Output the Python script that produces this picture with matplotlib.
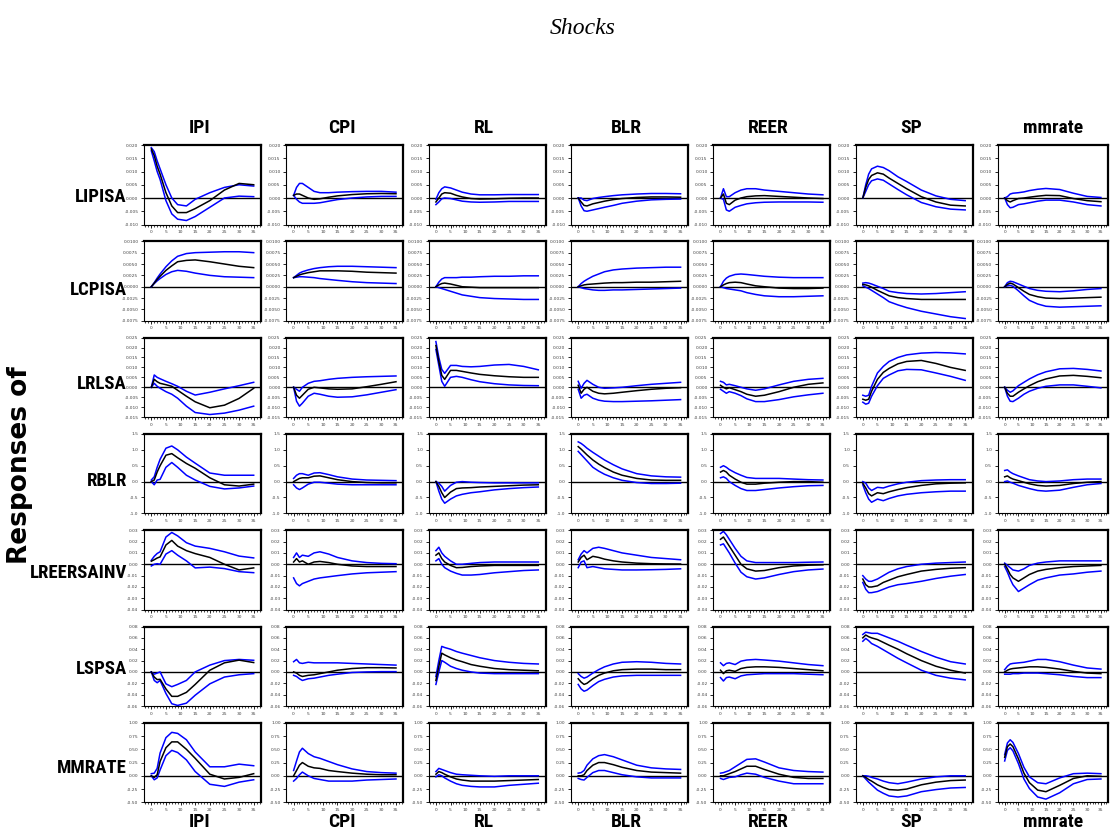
import matplotlib
matplotlib.use("Agg")
import matplotlib.pyplot as plt
from matplotlib import font_manager
from matplotlib.ticker import MultipleLocator

# ---------------- data ----------------
PERIODS = [0, 1, 2, 3, 5, 7, 9, 12, 15, 20, 25, 30, 35]
SHOCKS = ["IPI", "CPI", "RL", "BLR", "REER", "SP", "mmrate"]
RESPONSES = ["LIPISA", "LCPISA", "LRLSA", "RBLR", "LREERSAINV", "LSPSA", "MMRATE"]
X_TICKS = [0, 5, 10, 15, 20, 25, 30, 35]
X_TICK_LABELS = ["0", "5", "10", "15", "20", "25", "30", "35"]

Y_LIMITS = [(-0.010, 0.020), (-0.0075, 0.0100), (-0.015, 0.025), (-1.0, 1.5),
            (-0.04, 0.03), (-0.06, 0.08), (-0.50, 1.00)]
Y_TICKS = [
    [-0.010, -0.005, 0.000, 0.005, 0.010, 0.015, 0.020],
    [-0.0075, -0.0050, -0.0025, 0.0000, 0.0025, 0.0050, 0.0075, 0.0100],
    [-0.015, -0.010, -0.005, 0.000, 0.005, 0.010, 0.015, 0.020, 0.025],
    [-1.0, -0.5, 0.0, 0.5, 1.0, 1.5],
    [-0.04, -0.03, -0.02, -0.01, 0.00, 0.01, 0.02, 0.03],
    [-0.06, -0.04, -0.02, 0.00, 0.02, 0.04, 0.06, 0.08],
    [-0.50, -0.25, 0.00, 0.25, 0.50, 0.75, 1.00],
]
Y_TICK_LABELS = [
    ["-0.010", "-0.005", "0.000", "0.005", "0.010", "0.015", "0.020"],
    ["-0.0075", "-0.0050", "-0.0025", "0.0000", "0.0025", "0.0050", "0.0075", "0.0100"],
    ["-0.015", "-0.010", "-0.005", "0.000", "0.005", "0.010", "0.015", "0.020", "0.025"],
    ["-1.0", "-0.5", "0.0", "0.5", "1.0", "1.5"],
    ["-0.04", "-0.03", "-0.02", "-0.01", "0.00", "0.01", "0.02", "0.03"],
    ["-0.06", "-0.04", "-0.02", "0.00", "0.02", "0.04", "0.06", "0.08"],
    ["-0.50", "-0.25", "0.00", "0.25", "0.50", "0.75", "1.00"],
]

# Row 1: responses of LIPISA (columns: IPI, CPI, RL, BLR, REER, SP, mmrate)
LIPISA_MID = [
    [0.0185, 0.016, 0.012, 0.009, 0.002, -0.003, -0.0055, -0.0055, -0.004, -0.001, 0.003, 0.0055, 0.005],
    [0.001, 0.0015, 0.0015, 0.001, 0.0, -0.0005, -0.0003, 0.0003, 0.0008, 0.0013, 0.0016, 0.0017, 0.0016],
    [-0.0015, 0.0, 0.0015, 0.002, 0.0018, 0.001, 0.0004, -0.0002, -0.0004, -0.0003, -0.0001, 0.0, 0.0],
    [0.0, -0.0015, -0.0028, -0.003, -0.0022, -0.0017, -0.0012, -0.0006, -0.0002, 0.0002, 0.0004, 0.0004, 0.0003],
    [0.0, 0.0015, -0.002, -0.0025, -0.0008, 0.0, 0.0005, 0.0008, 0.0009, 0.0006, 0.0003, 0.0, -0.0002],
    [0.0, 0.004, 0.007, 0.0085, 0.0095, 0.009, 0.0075, 0.0055, 0.0035, 0.0005, -0.0015, -0.0027, -0.003],
    [0.0, -0.001, -0.0015, -0.001, -0.0002, 0.0, 0.0003, 0.0007, 0.001, 0.0009, -0.0002, -0.001, -0.0014],
]
LIPISA_HI = [
    [0.019, 0.0175, 0.014, 0.011, 0.005, 0.0, -0.0025, -0.003, -0.0005, 0.002, 0.004, 0.005, 0.0045],
    [0.001, 0.004, 0.0055, 0.0055, 0.004, 0.0025, 0.002, 0.002, 0.0022, 0.0024, 0.0025, 0.0025, 0.0022],
    [-0.0005, 0.002, 0.0035, 0.0042, 0.0038, 0.003, 0.0022, 0.0015, 0.0012, 0.0012, 0.0013, 0.0013, 0.0013],
    [0.0, 0.0, -0.0008, -0.001, -0.0002, 0.0002, 0.0005, 0.0009, 0.0012, 0.0015, 0.0017, 0.0017, 0.0016],
    [0.0, 0.0035, 0.0005, 0.0005, 0.002, 0.003, 0.0035, 0.0035, 0.003, 0.0025, 0.002, 0.0015, 0.0012],
    [0.0, 0.005, 0.009, 0.011, 0.012, 0.0115, 0.0103, 0.008, 0.0062, 0.003, 0.0008, -0.0005, -0.001],
    [0.0, 0.0005, 0.0015, 0.0018, 0.002, 0.0023, 0.0028, 0.0033, 0.0036, 0.0032, 0.0018, 0.0006, 0.0002],
]
LIPISA_LO = [
    [0.0178, 0.014, 0.010, 0.007, -0.001, -0.006, -0.008, -0.0085, -0.007, -0.0035, 0.0, 0.0007, 0.0005],
    [0.001, -0.0005, -0.0015, -0.002, -0.002, -0.002, -0.0018, -0.0012, -0.0006, 0.0, 0.0004, 0.0006, 0.0006],
    [-0.0025, -0.0015, -0.0003, 0.0, -0.0002, -0.0007, -0.0012, -0.0015, -0.0016, -0.0015, -0.0013, -0.0013, -0.0013],
    [0.0, -0.003, -0.0048, -0.005, -0.0045, -0.004, -0.0035, -0.0028, -0.002, -0.0012, -0.0007, -0.0005, -0.0004],
    [0.0, -0.0005, -0.0045, -0.005, -0.0035, -0.0028, -0.0022, -0.0018, -0.0016, -0.0015, -0.0015, -0.0015, -0.0016],
    [0.0, 0.0025, 0.005, 0.0065, 0.0072, 0.0067, 0.0053, 0.0032, 0.0012, -0.0017, -0.0033, -0.0042, -0.0045],
    [0.0, -0.0025, -0.0037, -0.0035, -0.0025, -0.0022, -0.0018, -0.0012, -0.0008, -0.0008, -0.0015, -0.0025, -0.003],
]

# Row 2: responses of LCPISA
LCPISA_MID = [
    [0.0, 0.0008, 0.0016, 0.0023, 0.0036, 0.0046, 0.0055, 0.0058, 0.0059, 0.0055, 0.005, 0.0045, 0.0042],
    [0.002, 0.0023, 0.0026, 0.0028, 0.0031, 0.0033, 0.0035, 0.0035, 0.0035, 0.0034, 0.0032, 0.0031, 0.003],
    [0.0, 0.0004, 0.0007, 0.0008, 0.0006, 0.0003, 0.0, -0.0001, -0.0002, -0.0002, -0.0002, -0.0002, -0.0002],
    [0.0, 0.0002, 0.0004, 0.0005, 0.0006, 0.0007, 0.0008, 0.0009, 0.0009, 0.001, 0.001, 0.0011, 0.0012],
    [0.0, 0.0004, 0.0007, 0.0009, 0.001, 0.0009, 0.0006, 0.0002, 0.0, -0.0003, -0.0004, -0.0004, -0.0003],
    [0.0005, 0.0004, 0.0002, -0.0001, -0.0008, -0.0014, -0.002, -0.0024, -0.0026, -0.0028, -0.0028, -0.0028, -0.0028],
    [0.0, 0.0005, 0.0008, 0.0006, -0.0002, -0.001, -0.0017, -0.0022, -0.0025, -0.0026, -0.0025, -0.0024, -0.0023],
]
LCPISA_HI = [
    [0.0, 0.0009, 0.0019, 0.0028, 0.0044, 0.0057, 0.0067, 0.0073, 0.0075, 0.0076, 0.0077, 0.0077, 0.0075],
    [0.002, 0.0025, 0.003, 0.0033, 0.0037, 0.004, 0.0042, 0.0044, 0.0045, 0.0045, 0.0044, 0.0043, 0.0042],
    [0.0, 0.001, 0.0017, 0.002, 0.002, 0.002, 0.0021, 0.0021, 0.0022, 0.0023, 0.0023, 0.0024, 0.0024],
    [0.0, 0.0007, 0.0012, 0.0016, 0.0023, 0.0028, 0.0033, 0.0037, 0.0039, 0.0041, 0.0042, 0.0043, 0.0043],
    [0.0, 0.0012, 0.0019, 0.0023, 0.0027, 0.0028, 0.0027, 0.0025, 0.0023, 0.0021, 0.002, 0.002, 0.002],
    [0.0008, 0.0009, 0.0008, 0.0006, 0.0001, -0.0004, -0.001, -0.0013, -0.0015, -0.0016, -0.0015, -0.0013, -0.0011],
    [0.0, 0.0009, 0.0012, 0.0011, 0.0006, 0.0001, -0.0004, -0.0008, -0.001, -0.0011, -0.0009, -0.0006, -0.0004],
]
LCPISA_LO = [
    [0.0, 0.0007, 0.0013, 0.0018, 0.0027, 0.0033, 0.0036, 0.0034, 0.003, 0.0025, 0.0022, 0.0021, 0.002],
    [0.002, 0.0021, 0.0022, 0.0022, 0.0021, 0.002, 0.0018, 0.0016, 0.0014, 0.0011, 0.0009, 0.0008, 0.0007],
    [0.0, -0.0002, -0.0004, -0.0006, -0.001, -0.0014, -0.0018, -0.0021, -0.0024, -0.0026, -0.0027, -0.0028, -0.0028],
    [0.0, -0.0002, -0.0004, -0.0005, -0.0007, -0.0008, -0.0008, -0.0007, -0.0007, -0.0006, -0.0005, -0.0004, -0.0003],
    [0.0, -0.0002, -0.0004, -0.0005, -0.0007, -0.0009, -0.0013, -0.0017, -0.002, -0.0022, -0.0022, -0.0021, -0.002],
    [0.0002, -0.0001, -0.0004, -0.0008, -0.0016, -0.0024, -0.0033, -0.004, -0.0046, -0.0054, -0.006, -0.0066, -0.007],
    [0.0, 0.0002, 0.0003, 0.0001, -0.0009, -0.002, -0.003, -0.0038, -0.0043, -0.0045, -0.0044, -0.0043, -0.0042],
]

# Row 3: responses of LRLSA
LRLSA_MID = [
    [0.0, 0.004, 0.0028, 0.002, 0.0013, 0.0005, -0.0015, -0.0045, -0.0073, -0.0103, -0.009, -0.0056, -0.0005],
    [0.0, -0.004, -0.0055, -0.004, -0.001, 0.0, -0.0003, -0.0008, -0.001, -0.0008, 0.0003, 0.0015, 0.0028],
    [0.021, 0.013, 0.006, 0.004, 0.0085, 0.0085, 0.008, 0.0072, 0.0065, 0.0058, 0.0053, 0.005, 0.005],
    [0.001, -0.003, -0.001, 0.0, -0.002, -0.003, -0.0033, -0.003, -0.0025, -0.0017, -0.001, -0.0005, -0.0002],
    [0.001, 0.0, -0.0008, -0.0002, -0.0012, -0.0022, -0.0035, -0.0045, -0.004, -0.0022, 0.0, 0.0015, 0.0022],
    [-0.006, -0.0065, -0.006, -0.002, 0.004, 0.0075, 0.0095, 0.0118, 0.013, 0.0135, 0.012, 0.01, 0.0085],
    [0.0, -0.003, -0.0045, -0.0045, -0.0025, -0.0008, 0.0008, 0.0028, 0.0042, 0.0057, 0.006, 0.0055, 0.0048],
]
LRLSA_HI = [
    [0.0, 0.0062, 0.005, 0.0043, 0.003, 0.0018, 0.0005, -0.002, -0.0039, -0.0025, -0.0008, 0.0008, 0.0025],
    [0.0, -0.001, -0.002, 0.0, 0.002, 0.003, 0.0033, 0.004, 0.0045, 0.005, 0.0053, 0.0055, 0.0057],
    [0.023, 0.015, 0.009, 0.007, 0.011, 0.011, 0.0105, 0.0103, 0.0105, 0.0112, 0.0115, 0.0105, 0.0088],
    [0.003, -0.0005, 0.002, 0.0035, 0.0015, 0.0, -0.0005, -0.0003, 0.0, 0.0008, 0.0015, 0.002, 0.0025],
    [0.003, 0.0025, 0.0012, 0.0015, 0.0008, 0.0, -0.0008, -0.0015, -0.0008, 0.0012, 0.003, 0.004, 0.0045],
    [-0.004, -0.0045, -0.004, 0.0005, 0.0072, 0.0105, 0.013, 0.015, 0.0163, 0.0172, 0.0175, 0.0173, 0.0168],
    [0.0, -0.0015, -0.0025, -0.0018, 0.0008, 0.0025, 0.0042, 0.0063, 0.0078, 0.0093, 0.0095, 0.009, 0.0082],
]
LRLSA_LO = [
    [0.0, 0.002, 0.0005, -0.0005, -0.0022, -0.0035, -0.0055, -0.0095, -0.0127, -0.0137, -0.013, -0.0115, -0.0095],
    [0.0, -0.007, -0.0095, -0.008, -0.0045, -0.003, -0.0035, -0.0045, -0.005, -0.0048, -0.0038, -0.0025, -0.0012],
    [0.019, 0.011, 0.003, 0.0005, 0.005, 0.0055, 0.005, 0.0038, 0.0028, 0.0018, 0.0012, 0.0009, 0.0008],
    [-0.001, -0.0055, -0.004, -0.0035, -0.0055, -0.0065, -0.007, -0.0072, -0.0072, -0.007, -0.0068, -0.0065, -0.0062],
    [-0.001, -0.002, -0.003, -0.0022, -0.003, -0.0042, -0.0058, -0.0072, -0.0072, -0.0062, -0.0048, -0.0038, -0.003],
    [-0.0075, -0.0085, -0.008, -0.0045, 0.0008, 0.0045, 0.0062, 0.0083, 0.009, 0.0088, 0.0072, 0.0055, 0.0035],
    [0.0, -0.0045, -0.007, -0.0072, -0.0055, -0.0035, -0.002, -0.0005, 0.0005, 0.0012, 0.0012, 0.0005, -0.0003],
]

# Row 4: responses of RBLR
RBLR_MID = [
    [0.0, 0.05, 0.3, 0.5, 0.83, 0.88, 0.75, 0.57, 0.42, 0.12, -0.1, -0.14, -0.08],
    [0.0, 0.05, 0.1, 0.12, 0.12, 0.17, 0.18, 0.12, 0.06, 0.0, -0.03, -0.04, -0.04],
    [0.0, -0.15, -0.35, -0.5, -0.33, -0.22, -0.2, -0.19, -0.17, -0.15, -0.13, -0.11, -0.1],
    [1.1, 1.02, 0.93, 0.84, 0.68, 0.55, 0.44, 0.3, 0.2, 0.1, 0.05, 0.04, 0.04],
    [0.3, 0.35, 0.3, 0.2, 0.08, -0.02, -0.08, -0.08, -0.05, -0.02, 0.0, 0.0, -0.02],
    [-0.05, -0.2, -0.38, -0.45, -0.35, -0.38, -0.32, -0.25, -0.19, -0.12, -0.07, -0.05, -0.04],
    [0.15, 0.18, 0.12, 0.08, 0.03, -0.02, -0.07, -0.12, -0.14, -0.12, -0.06, -0.02, 0.0],
]
RBLR_HI = [
    [0.05, 0.15, 0.45, 0.7, 1.05, 1.12, 1.0, 0.77, 0.58, 0.27, 0.2, 0.2, 0.2],
    [0.1, 0.2, 0.25, 0.25, 0.2, 0.27, 0.28, 0.22, 0.15, 0.08, 0.05, 0.04, 0.03],
    [0.0, -0.05, -0.15, -0.3, -0.12, -0.02, 0.0, -0.02, -0.03, -0.04, -0.04, -0.04, -0.04],
    [1.25, 1.2, 1.13, 1.05, 0.92, 0.8, 0.68, 0.53, 0.4, 0.25, 0.18, 0.15, 0.14],
    [0.45, 0.5, 0.45, 0.38, 0.28, 0.2, 0.13, 0.1, 0.1, 0.1, 0.08, 0.06, 0.05],
    [0.0, -0.05, -0.2, -0.28, -0.18, -0.2, -0.14, -0.07, -0.02, 0.03, 0.05, 0.06, 0.06],
    [0.35, 0.37, 0.3, 0.25, 0.18, 0.12, 0.06, 0.02, 0.0, 0.02, 0.06, 0.08, 0.08],
]
RBLR_LO = [
    [0.0, -0.1, 0.05, 0.07, 0.45, 0.6, 0.45, 0.2, 0.05, -0.15, -0.23, -0.2, -0.14],
    [-0.1, -0.2, -0.25, -0.2, -0.08, -0.02, -0.02, -0.05, -0.08, -0.1, -0.1, -0.1, -0.1],
    [0.0, -0.3, -0.55, -0.68, -0.55, -0.45, -0.4, -0.35, -0.32, -0.26, -0.22, -0.19, -0.17],
    [0.95, 0.85, 0.75, 0.65, 0.45, 0.33, 0.23, 0.12, 0.04, -0.03, -0.06, -0.06, -0.05],
    [0.12, 0.15, 0.1, 0.0, -0.12, -0.22, -0.28, -0.28, -0.25, -0.2, -0.16, -0.13, -0.12],
    [-0.1, -0.35, -0.55, -0.65, -0.55, -0.6, -0.53, -0.45, -0.4, -0.35, -0.32, -0.3, -0.3],
    [0.0, 0.02, -0.02, -0.05, -0.12, -0.17, -0.22, -0.28, -0.3, -0.27, -0.18, -0.1, -0.06],
]

# Row 5: responses of LREERSAINV
LREERSAINV_MID = [
    [0.0027, 0.004, 0.0055, 0.0065, 0.017, 0.021, 0.016, 0.012, 0.0094, 0.006, 0.0, -0.005, -0.0032],
    [0.002, 0.005, 0.002, 0.003, 0.0, 0.002, 0.0025, 0.0015, 0.0, -0.0015, -0.002, -0.002, -0.002],
    [0.008, 0.01, 0.005, 0.002, -0.001, -0.003, -0.0028, -0.002, -0.0015, -0.001, -0.001, -0.001, -0.001],
    [0.002, 0.006, 0.008, 0.004, 0.007, 0.006, 0.0045, 0.003, 0.002, 0.001, 0.0005, 0.0003, 0.0002],
    [0.022, 0.024, 0.02, 0.016, 0.008, 0.0, -0.004, -0.006, -0.0055, -0.003, -0.0015, -0.0008, -0.0005],
    [-0.013, -0.018, -0.02, -0.02, -0.019, -0.016, -0.014, -0.011, -0.009, -0.006, -0.0045, -0.0035, -0.003],
    [0.0, -0.004, -0.009, -0.012, -0.015, -0.012, -0.009, -0.006, -0.0045, -0.003, -0.002, -0.0015, -0.001],
]
LREERSAINV_HI = [
    [0.0035, 0.007, 0.0095, 0.011, 0.024, 0.028, 0.025, 0.019, 0.016, 0.014, 0.011, 0.0072, 0.0056],
    [0.006, 0.01, 0.006, 0.008, 0.007, 0.01, 0.011, 0.009, 0.006, 0.003, 0.0015, 0.0008, 0.0005],
    [0.012, 0.015, 0.01, 0.007, 0.003, 0.0, 0.0, 0.0008, 0.0015, 0.002, 0.002, 0.002, 0.002],
    [0.004, 0.009, 0.012, 0.01, 0.014, 0.015, 0.014, 0.012, 0.01, 0.008, 0.006, 0.005, 0.004],
    [0.027, 0.029, 0.026, 0.022, 0.014, 0.007, 0.003, 0.0015, 0.0015, 0.0015, 0.0015, 0.0018, 0.002],
    [-0.01, -0.013, -0.015, -0.015, -0.013, -0.01, -0.007, -0.004, -0.002, 0.0, 0.001, 0.0015, 0.002],
    [0.001, -0.001, -0.003, -0.005, -0.006, -0.004, -0.001, 0.001, 0.002, 0.003, 0.003, 0.003, 0.003],
]
LREERSAINV_LO = [
    [-0.0015, 0.0, 0.0005, 0.0, 0.009, 0.012, 0.008, 0.003, -0.0032, -0.0025, -0.0038, -0.0065, -0.0074],
    [-0.012, -0.017, -0.019, -0.017, -0.015, -0.013, -0.012, -0.011, -0.01, -0.0085, -0.0075, -0.007, -0.0065],
    [0.003, 0.005, 0.0, -0.003, -0.006, -0.008, -0.0095, -0.0095, -0.009, -0.0075, -0.0065, -0.0055, -0.005],
    [-0.003, 0.002, 0.003, -0.003, -0.002, -0.003, -0.004, -0.0045, -0.005, -0.005, -0.0048, -0.0045, -0.004],
    [0.017, 0.018, 0.014, 0.01, 0.001, -0.007, -0.011, -0.013, -0.012, -0.009, -0.0065, -0.005, -0.0042],
    [-0.016, -0.022, -0.025, -0.025, -0.024, -0.022, -0.02, -0.018, -0.017, -0.015, -0.0125, -0.0105, -0.009],
    [-0.002, -0.007, -0.013, -0.018, -0.024, -0.021, -0.018, -0.014, -0.012, -0.0095, -0.0085, -0.007, -0.006],
]

# Row 6: responses of LSPSA
LSPSA_MID = [
    [0.0, -0.009, -0.0135, -0.013, -0.03, -0.043, -0.043, -0.036, -0.022, 0.003, 0.016, 0.0208, 0.0165],
    [0.0, -0.002, -0.006, -0.008, -0.006, -0.005, -0.003, 0.0, 0.003, 0.006, 0.0075, 0.0075, 0.007],
    [-0.015, 0.01, 0.033, 0.03, 0.025, 0.021, 0.018, 0.013, 0.01, 0.006, 0.004, 0.003, 0.002],
    [-0.012, -0.018, -0.022, -0.02, -0.012, -0.006, -0.002, 0.002, 0.004, 0.005, 0.005, 0.004, 0.004],
    [0.003, -0.003, 0.002, 0.003, 0.001, 0.006, 0.008, 0.009, 0.009, 0.008, 0.006, 0.004, 0.002],
    [0.06, 0.065, 0.062, 0.06, 0.057, 0.052, 0.047, 0.04, 0.032, 0.02, 0.01, 0.003, -0.002],
    [0.0, 0.003, 0.005, 0.006, 0.007, 0.008, 0.009, 0.009, 0.008, 0.005, 0.001, -0.002, -0.003],
]
LSPSA_HI = [
    [0.0, -0.004, -0.002, 0.0, -0.021, -0.026, -0.022, -0.015, 0.0, 0.012, 0.02, 0.022, 0.0205],
    [0.018, 0.022, 0.016, 0.015, 0.017, 0.016, 0.016, 0.016, 0.016, 0.015, 0.014, 0.013, 0.012],
    [-0.008, 0.02, 0.045, 0.043, 0.04, 0.036, 0.033, 0.029, 0.025, 0.02, 0.017, 0.015, 0.014],
    [-0.003, -0.008, -0.011, -0.009, -0.002, 0.004, 0.009, 0.014, 0.017, 0.018, 0.017, 0.015, 0.014],
    [0.016, 0.011, 0.015, 0.016, 0.013, 0.019, 0.021, 0.022, 0.021, 0.019, 0.016, 0.013, 0.011],
    [0.066, 0.07, 0.069, 0.068, 0.068, 0.064, 0.06, 0.054, 0.047, 0.036, 0.026, 0.018, 0.014],
    [0.004, 0.01, 0.014, 0.015, 0.016, 0.017, 0.019, 0.022, 0.022, 0.018, 0.012, 0.007, 0.005],
]
LSPSA_LO = [
    [0.0, -0.015, -0.019, -0.015, -0.038, -0.056, -0.059, -0.055, -0.041, -0.021, -0.009, -0.005, -0.003],
    [-0.006, -0.008, -0.012, -0.015, -0.012, -0.011, -0.009, -0.006, -0.004, -0.001, 0.0, 0.0005, 0.0005],
    [-0.022, 0.0, 0.02, 0.017, 0.01, 0.006, 0.003, 0.0, -0.002, -0.003, -0.003, -0.003, -0.003],
    [-0.022, -0.03, -0.034, -0.032, -0.024, -0.017, -0.013, -0.009, -0.007, -0.006, -0.006, -0.006, -0.006],
    [-0.01, -0.016, -0.01, -0.009, -0.012, -0.007, -0.005, -0.004, -0.003, -0.003, -0.003, -0.004, -0.005],
    [0.054, 0.059, 0.055, 0.05, 0.045, 0.039, 0.033, 0.024, 0.016, 0.003, -0.006, -0.011, -0.014],
    [-0.004, -0.004, -0.004, -0.003, -0.003, -0.002, -0.002, -0.002, -0.003, -0.005, -0.008, -0.01, -0.01],
]

# Row 7: responses of MMRATE
MMRATE_MID = [
    [0.0, -0.03, 0.02, 0.27, 0.53, 0.64, 0.64, 0.5, 0.33, 0.03, -0.06, -0.03, 0.04],
    [0.0, 0.1, 0.2, 0.25, 0.18, 0.15, 0.14, 0.1, 0.08, 0.05, 0.03, 0.02, 0.02],
    [0.03, 0.08, 0.06, 0.03, -0.02, -0.06, -0.08, -0.1, -0.1, -0.1, -0.09, -0.08, -0.07],
    [0.0, 0.0, 0.02, 0.1, 0.2, 0.25, 0.25, 0.21, 0.16, 0.1, 0.07, 0.06, 0.05],
    [0.0, 0.0, 0.02, 0.04, 0.08, 0.13, 0.18, 0.18, 0.12, 0.03, -0.03, -0.05, -0.05],
    [0.0, -0.03, -0.07, -0.1, -0.17, -0.22, -0.26, -0.27, -0.25, -0.17, -0.12, -0.09, -0.08],
    [0.35, 0.55, 0.6, 0.55, 0.32, 0.05, -0.13, -0.27, -0.3, -0.18, -0.05, 0.0, -0.01],
]
MMRATE_HI = [
    [0.04, 0.05, 0.14, 0.43, 0.72, 0.82, 0.8, 0.68, 0.45, 0.17, 0.17, 0.22, 0.19],
    [0.1, 0.28, 0.45, 0.52, 0.42, 0.36, 0.33, 0.27, 0.21, 0.13, 0.08, 0.06, 0.05],
    [0.08, 0.14, 0.12, 0.1, 0.06, 0.03, 0.02, 0.01, 0.0, -0.01, 0.0, 0.0, 0.0],
    [0.05, 0.06, 0.1, 0.2, 0.32, 0.38, 0.4, 0.36, 0.3, 0.2, 0.15, 0.13, 0.12],
    [0.05, 0.06, 0.08, 0.1, 0.17, 0.24, 0.31, 0.32, 0.26, 0.15, 0.1, 0.08, 0.07],
    [0.0, 0.0, -0.01, -0.03, -0.06, -0.1, -0.13, -0.15, -0.12, -0.06, -0.02, 0.0, 0.0],
    [0.4, 0.62, 0.68, 0.63, 0.42, 0.16, -0.02, -0.13, -0.15, -0.04, 0.04, 0.05, 0.04],
]
MMRATE_LO = [
    [0.0, -0.075, -0.04, 0.11, 0.38, 0.48, 0.44, 0.3, 0.08, -0.16, -0.2, -0.12, -0.075],
    [-0.1, -0.05, 0.02, 0.07, 0.0, -0.05, -0.07, -0.1, -0.1, -0.1, -0.08, -0.07, -0.06],
    [-0.02, 0.02, 0.0, -0.04, -0.1, -0.15, -0.18, -0.2, -0.21, -0.21, -0.18, -0.16, -0.14],
    [-0.05, -0.07, -0.08, -0.03, 0.06, 0.1, 0.1, 0.06, 0.02, -0.02, -0.04, -0.04, -0.04],
    [-0.05, -0.07, -0.05, -0.03, -0.02, 0.02, 0.05, 0.03, -0.03, -0.1, -0.15, -0.15, -0.15],
    [0.0, -0.06, -0.12, -0.17, -0.27, -0.33, -0.38, -0.4, -0.38, -0.3, -0.26, -0.23, -0.22],
    [0.28, 0.48, 0.53, 0.47, 0.23, -0.06, -0.24, -0.4, -0.44, -0.32, -0.15, -0.07, -0.06],
]

ROW_MID = [LIPISA_MID, LCPISA_MID, LRLSA_MID, RBLR_MID, LREERSAINV_MID, LSPSA_MID, MMRATE_MID]
ROW_HI = [LIPISA_HI, LCPISA_HI, LRLSA_HI, RBLR_HI, LREERSAINV_HI, LSPSA_HI, MMRATE_HI]
ROW_LO = [LIPISA_LO, LCPISA_LO, LRLSA_LO, RBLR_LO, LREERSAINV_LO, LSPSA_LO, MMRATE_LO]

# ---------------- fonts ----------------
_names = {f.name for f in font_manager.fontManager.ttflist}
NARROW = next((n for n in ["Liberation Sans Narrow", "Roboto Condensed", "Open Sans Condensed",
                           "Liberation Sans"] if n in _names), "DejaVu Sans")

# ---------------- layout (pixels) ----------------
W, H = 1110, 839
COL_LEFT0, COL_PITCH, AX_W = 144, 142.3, 117
LAST_COL_W = 110          # the rightmost column is narrower so it stays inside the image
ROW_TOP0, ROW_PITCH, AX_H = 145, 96.3, 79.5
ROW_LABEL_Y = [197, 290, 384, 481, 573, 669, 768]

fig = plt.figure(figsize=(W / 100, H / 100), dpi=100)
fig.patch.set_facecolor("white")

for i in range(7):
    for j in range(7):
        left = COL_LEFT0 + COL_PITCH * j
        top = ROW_TOP0 + ROW_PITCH * i
        w = LAST_COL_W if j == 6 else AX_W
        ax = fig.add_axes([left / W, 1 - (top + AX_H) / H, w / W, AX_H / H])
        ax.axhline(0, color="black", lw=1.0, zorder=1)
        ax.plot(PERIODS, ROW_HI[i][j], color="#0000ff", lw=1.1, zorder=2)
        ax.plot(PERIODS, ROW_LO[i][j], color="#0000ff", lw=1.1, zorder=2)
        ax.plot(PERIODS, ROW_MID[i][j], color="black", lw=1.1, zorder=3)
        ax.set_xlim(-2.5, 37.5)
        ax.set_ylim(*Y_LIMITS[i])
        ax.set_xticks(X_TICKS)
        ax.set_xticklabels(X_TICK_LABELS)
        ax.xaxis.set_minor_locator(MultipleLocator(1))
        ax.set_yticks(Y_TICKS[i])
        ax.set_yticklabels(Y_TICK_LABELS[i])
        ax.tick_params(axis="both", which="major", direction="out", length=2.5, width=0.6,
                       labelsize=3.2, pad=1.5, colors="black", labelcolor="#444444")
        ax.tick_params(axis="x", which="minor", direction="out", length=1.5, width=0.5)
        for s in ["left", "bottom"]:
            ax.spines[s].set_linewidth(0.8)
        for s in ["top", "right"]:
            ax.spines[s].set_linewidth(1.6)

# row labels
for i, name in enumerate(RESPONSES):
    fig.text(127 / W, 1 - ROW_LABEL_Y[i] / H, name, ha="right", va="center",
             fontsize=13.5, fontweight="bold", family=NARROW)

# column labels (top and bottom)
for j, name in enumerate(SHOCKS):
    cx = (COL_LEFT0 + COL_PITCH * j + AX_W / 2 - 3) / W
    fig.text(cx, 1 - 128 / H, name, ha="center", va="center",
             fontsize=14, fontweight="bold", family=NARROW)
    fig.text(cx, 1 - 822 / H, name, ha="center", va="center",
             fontsize=14, fontweight="bold", family=NARROW)

fig.text(583 / W, 1 - 28 / H, "Shocks", ha="center", va="center",
         fontsize=17, style="italic", family=["Liberation Serif", "DejaVu Serif"])
fig.text(20 / W, 1 - 465 / H, "Responses of", ha="center", va="center", rotation=90,
         fontsize=19, fontweight="bold", family="DejaVu Sans")

fig.savefig("out.png", dpi=100, facecolor="white")
